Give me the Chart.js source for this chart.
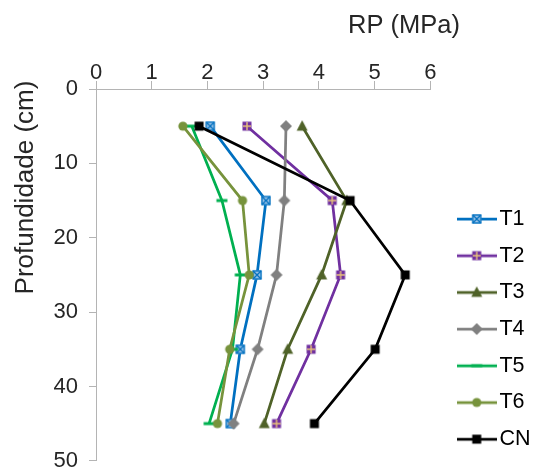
<!DOCTYPE html>
<html>
<head>
<meta charset="utf-8">
<script src="https://cdn.jsdelivr.net/npm/chart.js@4.4.1/dist/chart.umd.min.js"></script>
<style>
  html, body { margin: 0; padding: 0; background: #fff; overflow: hidden; }
  canvas { display: block; }
</style>
</head>
<body>
<canvas id="chart" width="535" height="485"></canvas>
<script>
/* --------------- Data --------------------- */
const depths = [5, 15, 25, 35, 45];
const seriesNames = ["T1", "T2", "T3", "T4", "T5", "T6", "CN"];
const rpT1 = [2.05, 3.05, 2.89, 2.59, 2.41];
const rpT2 = [2.71, 4.24, 4.39, 3.86, 3.24];
const rpT3 = [3.70, 4.50, 4.05, 3.44, 3.02];
const rpT4 = [3.41, 3.38, 3.24, 2.90, 2.47];
const rpT5 = [1.72, 2.26, 2.59, 2.45, 2.03];
const rpT6 = [1.56, 2.63, 2.75, 2.40, 2.18];
const rpCN = [1.85, 4.56, 5.55, 5.01, 3.92];
const xTitle = "RP (MPa)";
const yTitle = "Profundidade (cm)";

/* --------------- Styles --------------------- */
const FONT = "'Liberation Sans', Arial, sans-serif";
const textColor = "#262626";
const axisGray = "#b4b4b4";
const rpSeries = [rpT1, rpT2, rpT3, rpT4, rpT5, rpT6, rpCN];
const lineColors = ["#0070c0", "#7030a0", "#4f6228", "#808080", "#00b050", "#77933c", "#000000"];
const markerKinds = ["boxX", "boxPlus", "triangle", "diamond", "dash", "circle", "square"];

function drawMarker(ctx, kind, cx, cy, color) {
  ctx.save();
  ctx.fillStyle = color;
  ctx.strokeStyle = color;
  if (kind === "boxX") {
    ctx.fillStyle = "#9cc3e8";
    ctx.fillRect(cx - 4.5, cy - 4.5, 9, 9);
    ctx.lineWidth = 1.3;
    ctx.strokeRect(cx - 4, cy - 4, 8, 8);
    ctx.beginPath();
    ctx.moveTo(cx - 4, cy - 4); ctx.lineTo(cx + 4, cy + 4);
    ctx.moveTo(cx + 4, cy - 4); ctx.lineTo(cx - 4, cy + 4);
    ctx.stroke();
  } else if (kind === "boxPlus") {
    ctx.fillRect(cx - 4.5, cy - 4.5, 9, 9);
    ctx.strokeStyle = "#e8c27a";
    ctx.lineWidth = 1.4;
    ctx.beginPath();
    ctx.moveTo(cx - 4, cy); ctx.lineTo(cx + 4, cy);
    ctx.moveTo(cx, cy - 4); ctx.lineTo(cx, cy + 4);
    ctx.stroke();
  } else if (kind === "triangle") {
    ctx.beginPath();
    ctx.moveTo(cx, cy - 6);
    ctx.lineTo(cx + 5.5, cy + 4.5);
    ctx.lineTo(cx - 5.5, cy + 4.5);
    ctx.closePath();
    ctx.fill();
  } else if (kind === "diamond") {
    ctx.beginPath();
    ctx.moveTo(cx, cy - 6);
    ctx.lineTo(cx + 6, cy);
    ctx.lineTo(cx, cy + 6);
    ctx.lineTo(cx - 6, cy);
    ctx.closePath();
    ctx.fill();
  } else if (kind === "dash") {
    ctx.fillRect(cx - 5.5, cy - 1.5, 11, 3);
  } else if (kind === "circle") {
    ctx.beginPath();
    ctx.arc(cx, cy, 4.6, 0, Math.PI * 2);
    ctx.fill();
  } else {
    ctx.fillRect(cx - 4.5, cy - 4.5, 9, 9);
  }
  ctx.restore();
}

function pointImage(kind, color) {
  const c = document.createElement("canvas");
  c.width = 16; c.height = 16;
  drawMarker(c.getContext("2d"), kind, 8, 8, color);
  return c;
}

function legendImage(kind, color) {
  const c = document.createElement("canvas");
  c.width = 40; c.height = 16;
  const ctx = c.getContext("2d");
  ctx.strokeStyle = color;
  ctx.lineWidth = 2.75;
  ctx.beginPath();
  ctx.moveTo(0, 8); ctx.lineTo(40, 8);
  ctx.stroke();
  drawMarker(ctx, kind, 20, 8, color);
  return c;
}

const legendImages = seriesNames.map((_, i) => legendImage(markerKinds[i], lineColors[i]));

/* --------------- Plugins --------------------- */
// Legend sits lower than Chart.js would put it
const placeLegend = {
  id: "placeLegend",
  afterLayout(chart) {
    const lg = chart.legend;
    const w = lg.width, h = lg.height;
    lg.left = 449.5; lg.right = lg.left + w;
    lg.top = 193; lg.bottom = lg.top + h;
  }
};

// Axis titles are placed off-centre like in the original
const axisTitles = {
  id: "axisTitles",
  afterDraw(chart) {
    const ctx = chart.ctx;
    ctx.save();
    ctx.fillStyle = textColor;
    ctx.font = "25.5px " + FONT;
    ctx.textAlign = "left";
    ctx.textBaseline = "alphabetic";
    ctx.fillText(xTitle, 348, 33);
    ctx.translate(33, 187.5);
    ctx.rotate(-Math.PI / 2);
    ctx.font = "26px " + FONT;
    ctx.textAlign = "center";
    ctx.fillText(yTitle, 0, 0);
    ctx.restore();
  }
};

/* --------------- Chart --------------------- */
const datasets = seriesNames.map((name, i) => ({
  label: name,
  data: depths.map((d, k) => ({ x: rpSeries[i][k], y: d })),
  showLine: true,
  borderColor: lineColors[i],
  backgroundColor: lineColors[i],
  borderWidth: 2.75,
  pointStyle: pointImage(markerKinds[i], lineColors[i]),
  pointRadius: 5,
  order: seriesNames.length - i,
}));

new Chart(document.getElementById("chart"), {
  type: "scatter",
  data: { datasets: datasets },
  plugins: [placeLegend, axisTitles],
  options: {
    responsive: false,
    animation: false,
    layout: { padding: { left: 0, right: 13.7, top: 0, bottom: 14 } },
    plugins: {
      tooltip: { enabled: false },
      legend: {
        position: "right",
        align: "start",
        labels: {
          usePointStyle: true,
          pointStyleWidth: 24,
          padding: 15.2,
          color: textColor,
          font: { family: FONT, size: 21.5 },
          generateLabels: (chart) => chart.data.datasets.map((ds, i) => ({
            text: ds.label,
            pointStyle: legendImages[i],
            datasetIndex: i,
            hidden: false,
            lineWidth: 0,
            fillStyle: "transparent",
            strokeStyle: "transparent",
          })),
        },
      },
    },
    scales: {
      x: {
        type: "linear",
        position: "top",
        min: 0,
        max: 6,
        ticks: { stepSize: 1, padding: -5, color: textColor, font: { family: FONT, size: 22 } },
        grid: { drawOnChartArea: false, tickLength: 8, color: axisGray },
        border: { color: axisGray, width: 1 },
        afterFit: (s) => { s.height = 89; },
      },
      y: {
        type: "linear",
        reverse: true,
        min: 0,
        max: 50,
        ticks: { stepSize: 10, padding: 11, color: textColor, font: { family: FONT, size: 22 } },
        grid: { drawOnChartArea: false, tickLength: 7, color: axisGray },
        border: { color: axisGray, width: 1 },
        afterFit: (s) => { s.width = 96; },
      },
    },
  },
});
</script>
</body>
</html>
